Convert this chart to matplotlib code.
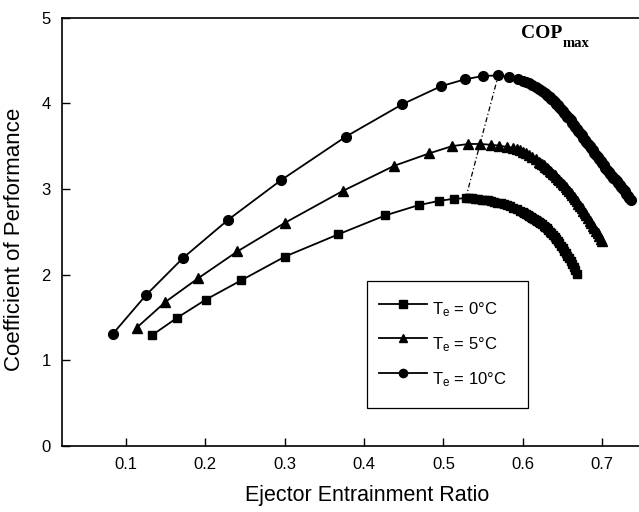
import matplotlib
matplotlib.use('Agg')
import matplotlib.pyplot as plt

plt.rcParams['font.family'] = ['Liberation Sans', 'DejaVu Sans']
plt.rcParams['mathtext.default'] = 'regular'

# Te = 0 C  (squares)
ratio_te0 = [0.133, 0.164, 0.2007, 0.245, 0.3006, 0.3678, 0.4266, 0.4686, 0.4946, 0.5139, 0.528,
             0.532, 0.536, 0.540, 0.544, 0.548, 0.552, 0.556, 0.560, 0.564, 0.568, 0.572, 0.576,
             0.580, 0.584, 0.588, 0.592, 0.596, 0.600,
             0.602, 0.604, 0.606, 0.608, 0.610, 0.612, 0.614, 0.616, 0.618, 0.620, 0.622, 0.624,
             0.626, 0.628, 0.630, 0.632, 0.634, 0.636, 0.638, 0.640, 0.642, 0.644, 0.646, 0.648,
             0.650, 0.652, 0.654, 0.656, 0.658, 0.660, 0.662, 0.664, 0.666, 0.668]
cop_te0 = [1.29, 1.49, 1.706, 1.93, 2.21, 2.47, 2.69, 2.81, 2.86, 2.886, 2.89,
           2.89, 2.89, 2.885, 2.88, 2.875, 2.87, 2.865, 2.86, 2.85, 2.84, 2.83, 2.82,
           2.81, 2.795, 2.78, 2.76, 2.745, 2.725,
           2.715, 2.705, 2.695, 2.685, 2.672, 2.66, 2.65, 2.64, 2.628, 2.615, 2.60, 2.585,
           2.57, 2.555, 2.538, 2.52, 2.50, 2.48, 2.46, 2.44, 2.415, 2.39, 2.363, 2.335,
           2.308, 2.28, 2.25, 2.22, 2.188, 2.155, 2.12, 2.085, 2.048, 2.01]

# Te = 5 C  (triangles)
ratio_te5 = [0.114, 0.150, 0.191, 0.2406, 0.3006, 0.373, 0.438, 0.482, 0.511, 0.5315, 0.546,
             0.5597, 0.5705, 0.580, 0.588,
             0.592, 0.596, 0.600, 0.604, 0.608, 0.612, 0.616, 0.620,
             0.622, 0.624, 0.626, 0.628, 0.630, 0.632, 0.634, 0.636, 0.638, 0.640, 0.642, 0.644,
             0.646, 0.648, 0.650, 0.652, 0.654, 0.656, 0.658, 0.660, 0.662, 0.664, 0.666, 0.668,
             0.670, 0.672, 0.674, 0.676, 0.678, 0.680, 0.682, 0.684, 0.686, 0.688, 0.690, 0.692,
             0.694, 0.696, 0.698, 0.700]
cop_te5 = [1.38, 1.68, 1.955, 2.27, 2.605, 2.975, 3.27, 3.415, 3.50, 3.525, 3.525,
           3.516, 3.505, 3.49, 3.48,
           3.465, 3.45, 3.435, 3.415, 3.395, 3.37, 3.345, 3.32,
           3.305, 3.29, 3.275, 3.26, 3.245, 3.23, 3.213, 3.195, 3.178, 3.16, 3.14, 3.12,
           3.10, 3.08, 3.06, 3.04, 3.018, 2.995, 2.973, 2.95, 2.928, 2.905, 2.88, 2.855,
           2.828, 2.80, 2.773, 2.745, 2.718, 2.69, 2.66, 2.63, 2.60, 2.57, 2.54, 2.51,
           2.48, 2.45, 2.42, 2.39]

# Te = 10 C  (circles)
ratio_te10 = [0.0836, 0.1256, 0.1726, 0.229, 0.2952, 0.377, 0.4484, 0.497, 0.527, 0.550, 0.569,
              0.583, 0.594,
              0.600, 0.604, 0.608, 0.612, 0.616, 0.620, 0.624, 0.628,
              0.630, 0.632, 0.634, 0.636, 0.638, 0.640, 0.642, 0.644, 0.646, 0.648, 0.650, 0.652,
              0.654, 0.656, 0.658, 0.660, 0.662, 0.664, 0.666, 0.668, 0.670, 0.672, 0.674, 0.676,
              0.678, 0.680, 0.682, 0.684, 0.686, 0.688, 0.690, 0.692, 0.694, 0.696, 0.698, 0.700,
              0.702, 0.704, 0.706, 0.708, 0.710, 0.712, 0.714, 0.716, 0.718, 0.720, 0.722, 0.724,
              0.726, 0.728, 0.730, 0.732, 0.734, 0.736]
cop_te10 = [1.305, 1.76, 2.197, 2.64, 3.10, 3.61, 3.99, 4.20, 4.28, 4.32, 4.325,
            4.31, 4.285,
            4.265, 4.25, 4.235, 4.215, 4.195, 4.17, 4.145, 4.115,
            4.10, 4.085, 4.068, 4.05, 4.033, 4.015, 3.995, 3.975, 3.955, 3.935, 3.913, 3.89,
            3.868, 3.845, 3.823, 3.80, 3.775, 3.75, 3.725, 3.70, 3.675, 3.65, 3.625, 3.60,
            3.575, 3.55, 3.525, 3.50, 3.475, 3.45, 3.425, 3.40, 3.375, 3.35, 3.325, 3.30,
            3.275, 3.25, 3.225, 3.20, 3.175, 3.15, 3.133, 3.115, 3.09, 3.065, 3.043, 3.02,
            2.995, 2.97, 2.945, 2.92, 2.898, 2.875]

# COP max locus
peak_ratio = [0.528, 0.546, 0.569]
peak_cop = [2.89, 3.525, 4.325]

labels = ['T$_e$ = 0°C', 'T$_e$ = 5°C', 'T$_e$ = 10°C']

fig = plt.figure(figsize=(6.39, 5.12), dpi=100)
ax = fig.add_axes([0.0966, 0.1295, 0.9034, 0.8359])

ax.plot(peak_ratio, peak_cop, color='black', lw=0.9, ls=(0, (4, 2, 1, 2)), zorder=1)
ax.plot(ratio_te0, cop_te0, color='black', lw=1.3, marker='s', ms=6, label=labels[0], zorder=2)
ax.plot(ratio_te5, cop_te5, color='black', lw=1.3, marker='^', ms=7.5, label=labels[1], zorder=2)
ax.plot(ratio_te10, cop_te10, color='black', lw=1.3, marker='o', ms=7, label=labels[2], zorder=2)

ax.text(0.598, 4.763, 'COP', family='Liberation Serif', fontweight='bold', fontsize=14,
        ha='left', va='baseline')
ax.text(0.6495, 4.657, 'max', family='Liberation Serif', fontweight='bold', fontsize=10.5,
        ha='left', va='baseline')

ax.set_xlim(0.0194, 0.7462)
ax.set_ylim(0, 5)
ax.set_xticks([0.1, 0.2, 0.3, 0.4, 0.5, 0.6, 0.7])
ax.set_yticks([0, 1, 2, 3, 4, 5])
ax.tick_params(direction='in', length=6, width=1, labelsize=12, pad=8)
ax.spines['right'].set_visible(False)
for s in ['left', 'top', 'bottom']:
    ax.spines[s].set_linewidth(1.2)

ax.set_xlabel('Ejector Entrainment Ratio', fontsize=15.5)
ax.set_ylabel('Coefficient of Performance', fontsize=16)
ax.xaxis.set_label_coords(0.529, -0.093)
ax.yaxis.set_label_coords(-0.064, 0.483)

leg = ax.legend(loc='upper left', bbox_to_anchor=(0.529, 0.095, 0.279, 0.29),
                mode='expand', borderaxespad=0,
                fontsize=12, fancybox=False, edgecolor='black', framealpha=1,
                handlelength=2.9, handleheight=2.75, handletextpad=0.3, labelspacing=0.05,
                borderpad=0.7, markerscale=0.85)
leg.get_frame().set_linewidth(0.9)

fig.savefig('out.png', dpi=100)
